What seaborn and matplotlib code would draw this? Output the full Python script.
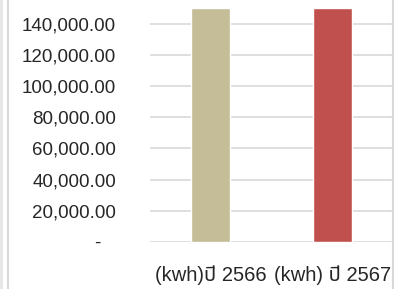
import matplotlib
matplotlib.use('Agg')
import matplotlib.pyplot as plt
import seaborn as sns
import pandas as pd
from matplotlib.lines import Line2D
from matplotlib.ticker import FuncFormatter

# chart data (bars are clipped at the top of the plot area)
categories = ['(kwh)ปี 2566', '(kwh) ปี 2567']
values = [150000, 150000]
bar_colors = ['#C4BD97', '#C0504D']
y_ticks = [0, 20000, 40000, 60000, 80000, 100000, 120000, 140000]

df = pd.DataFrame({'category': categories, 'kwh': values})

sns.set_style('white')
plt.rcParams['font.family'] = ['Liberation Sans', 'Noto Sans Thai', 'DejaVu Sans']

fig = plt.figure(figsize=(4.03, 2.89), dpi=100)
ax = fig.add_axes([150 / 403, 47 / 289, 243 / 403, 234 / 289])

sns.barplot(data=df, x='category', y='kwh', hue='category', palette=bar_colors,
            width=0.32, saturation=1, legend=False, ax=ax)


def fmt(v, pos):
    # accounting style: zero shown as a dash with some trailing padding
    if v == 0:
        return '-  \u2009'
    return f'{v:,.2f}'


ax.set_ylim(0, 150000)
ax.set_yticks(y_ticks)
ax.yaxis.set_major_formatter(FuncFormatter(fmt))
ax.grid(axis='y', color='#D9D9D9', linewidth=1.2)
ax.set_axisbelow(True)
for s in ax.spines.values():
    s.set_visible(False)
ax.tick_params(axis='y', length=0, pad=24.5, labelsize=13.5)
ax.tick_params(axis='x', length=0, pad=17, labelsize=14.5)
ax.set_xlabel('')
ax.set_ylabel('')

# outer chart frame lines
fig.add_artist(Line2D([1 / 403, 1 / 403], [0, 1], color='#E6E6E6', linewidth=2))
fig.add_artist(Line2D([8 / 403, 8 / 403], [0, 1], color='#D9D9D9', linewidth=1.5))
fig.add_artist(Line2D([393 / 403, 393 / 403], [0, 1], color='#D9D9D9', linewidth=1.5))

fig.savefig('out.png', dpi=100)
